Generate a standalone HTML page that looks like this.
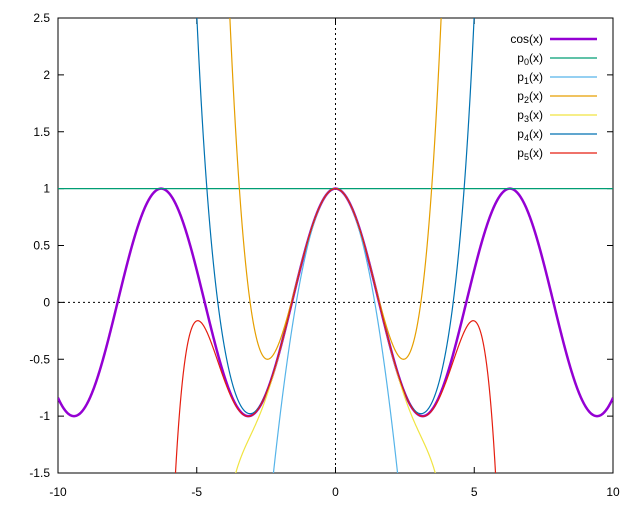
<!DOCTYPE html>
<html><head><style>html,body{margin:0;padding:0;background:#fff;width:640px;height:512px;overflow:hidden}svg{display:block;overflow:hidden}text{font-family:"Liberation Sans",sans-serif;font-size:12px;fill:#000}</style></head>
<body>
<svg id="s" width="640" height="512" xmlns="http://www.w3.org/2000/svg">
<defs><clipPath id="c"><rect x="58" y="18" width="555" height="455"/></clipPath></defs>
<rect x="58" y="18" width="555" height="455" fill="none" stroke="#000" stroke-width="1"/>
<g id="ticks" stroke="#000" stroke-width="1"></g>
<g id="lab"></g>
<line x1="58" x2="613" y1="302.4" y2="302.4" stroke="#000" stroke-dasharray="2,3"/>
<line x1="335.5" x2="335.5" y1="18" y2="473" stroke="#000" stroke-dasharray="2,3"/>
<g id="curves" clip-path="url(#c)" fill="none"></g>
<g id="leg"></g>
</svg>
<script>
var X0=58,X1=613,Y0=473,Y1=18;
function px(x){return X0+(x+10)/20*(X1-X0);}
function py(y){return Y0-(y+1.5)/4*(Y0-Y1);}
var ns="http://www.w3.org/2000/svg";
function el(p,t,a,txt){var e=document.createElementNS(ns,t);for(var k in a)e.setAttribute(k,a[k]);if(txt!==undefined)e.textContent=txt;document.getElementById(p).appendChild(e);return e;}
for(var x=-10;x<=10;x+=5){var X=px(x);el("ticks","line",{x1:X,x2:X,y1:Y0,y2:Y0-6});el("ticks","line",{x1:X,x2:X,y1:Y1,y2:Y1+6});el("lab","text",{x:X,y:496,"text-anchor":"middle"},String(x));}
for(var i=0;i<=8;i++){var y=-1.5+i*0.5,Y=py(y);el("ticks","line",{x1:X0,x2:X0+6,y1:Y,y2:Y});el("ticks","line",{x1:X1,x2:X1-6,y1:Y,y2:Y});el("lab","text",{x:50,y:Y+4,"text-anchor":"end"},String(y));}
function taylor(n){return function(x){var s=0,t=1;for(var k=0;k<=n;k++){if(k>0)t*=-x*x/((2*k-1)*(2*k));s+=t;}return s;};}
var fs=[[Math.cos,"#9400d3",2.5,"cos(x)"],[taylor(0),"#009e73",1.2,"0"],[taylor(1),"#56b4e9",1.2,"1"],[taylor(2),"#e69f00",1.2,"2"],[taylor(3),"#f0e442",1.2,"3"],[taylor(4),"#0072b2",1.2,"4"],[taylor(5),"#e51e10",1.2,"5"]];
fs.forEach(function(f,j){var d="";for(var i=0;i<=2000;i++){var x=-10+i*0.01,y=f[0](x);y=Math.max(-1.6,Math.min(2.6,y));d+=(i?"L":"M")+px(x).toFixed(2)+" "+py(y).toFixed(2);}
el("curves","path",{d:d,stroke:f[1],"stroke-width":f[2]});
var ly=39+j*19;var t=el("leg","text",{x:543,y:ly+4,"text-anchor":"end"});
if(j==0)t.textContent="cos(x)";else{t.appendChild(document.createTextNode("p"));var s=document.createElementNS(ns,"tspan");s.setAttribute("dy","3");s.setAttribute("font-size","9");s.textContent=f[3];t.appendChild(s);var s2=document.createElementNS(ns,"tspan");s2.setAttribute("dy","-3");s2.textContent="(x)";t.appendChild(s2);}
el("leg","line",{x1:550,x2:597,y1:ly,y2:ly,stroke:f[1],"stroke-width":f[2]});});
</script>
</body></html>
